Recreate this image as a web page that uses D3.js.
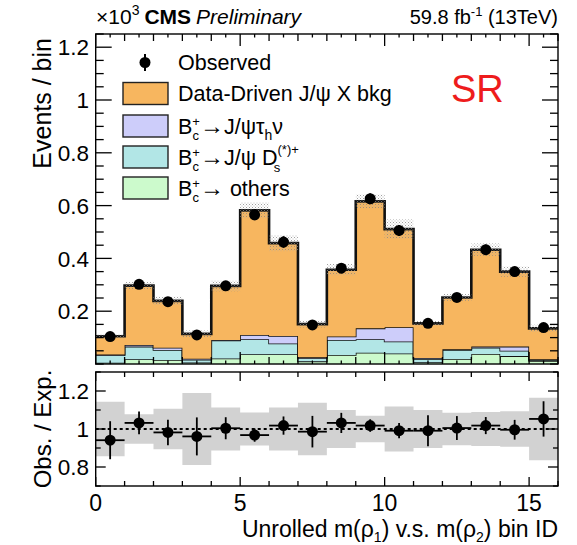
<!DOCTYPE html>
<html>
<head>
<meta charset="utf-8">
<script src="https://cdn.jsdelivr.net/npm/d3@7"></script>
<style>
  body { margin: 0; background: #fff; }
  text { font-family: "Liberation Sans", Arial, sans-serif; fill: #000; }
</style>
</head>
<body>
<script>
// bin contents (x10^3 events / bin), stacked from bottom
const bins = d3.range(16);
const others = [0.005, 0.018, 0.015, 0.006, 0.021, 0.037, 0.037, 0.010, 0.034, 0.043, 0.040, 0.007, 0.019, 0.038, 0.030, 0.012];
const dsPlus = [0.028, 0.048, 0.038, 0.010, 0.068, 0.057, 0.041, 0.012, 0.057, 0.051, 0.045, 0.012, 0.034, 0.024, 0.020, 0.003];
const tauNu = [0.003, 0.006, 0.009, 0.004, 0.002, 0.016, 0.028, 0.004, 0.013, 0.041, 0.054, 0.004, 0.003, 0.004, 0.016, 0.003];
const bkg = [0.069, 0.225, 0.177, 0.094, 0.205, 0.472, 0.352, 0.125, 0.253, 0.481, 0.372, 0.131, 0.196, 0.367, 0.284, 0.117];
const observed = [0.104, 0.302, 0.236, 0.110, 0.296, 0.565, 0.462, 0.148, 0.363, 0.626, 0.506, 0.154, 0.252, 0.433, 0.350, 0.138];
// ratio panel
const ratio = [0.941, 1.032, 0.982, 0.961, 1.004, 0.968, 1.018, 0.986, 1.032, 1.018, 0.991, 0.991, 1.005, 1.018, 0.996, 1.053];
const ratioErr = [0.100, 0.060, 0.067, 0.100, 0.058, 0.035, 0.048, 0.083, 0.053, 0.033, 0.040, 0.082, 0.063, 0.045, 0.052, 0.093];
const expUnc = [0.144, 0.078, 0.107, 0.190, 0.113, 0.087, 0.113, 0.138, 0.100, 0.070, 0.118, 0.100, 0.085, 0.090, 0.093, 0.165];
const xTicks = [0, 5, 10, 15];
const yTicks = [0.2, 0.4, 0.6, 0.8, 1, 1.2];
const rTicks = [0.8, 1, 1.2];

const width = 577, height = 545;
const colors = { others: '#ccfacc', ds: '#b2e6e6', tau: '#cdcdfa', bkg: '#f7b65f' };

const svg = d3.select('body').append('svg')
    .attr('width', width)
    .attr('height', height);

const x = d3.scaleLinear().domain([0, 16]).range([95.7, 558]);
const y = d3.scaleLinear().domain([0, 1.25]).range([364, 34]);
const yr = d3.scaleLinear().domain([0.7, 1.3]).range([486, 372]);

// dotted hatch for the uncertainty
const defs = svg.append('defs');
const pat = defs.append('pattern')
    .attr('id', 'dots')
    .attr('width', 3).attr('height', 3)
    .attr('patternUnits', 'userSpaceOnUse');
pat.append('rect').attr('x', 0).attr('y', 0).attr('width', 1).attr('height', 1).attr('fill', '#888');
pat.append('rect').attr('x', 1.5).attr('y', 1.5).attr('width', 1).attr('height', 1).attr('fill', '#aaa');

const rows = bins.map(i => ({ bin: i, others: others[i], ds: dsPlus[i], tau: tauNu[i], bkg: bkg[i] }));
const stack = d3.stack().keys(['others', 'ds', 'tau', 'bkg'])(rows);
const total = rows.map(r => r.others + r.ds + r.tau + r.bkg);

// repeat the last bin so steps reach the right edge
const withEdge = arr => arr.concat([Object.assign({}, arr[arr.length - 1], { edge: true })]);
const binX = (d, i) => x(i);

const main = svg.append('g');

stack.forEach(layer => {
    let pts = withEdge(layer.map(d => ({ y0: d[0], y1: d[1] })));
    main.append('path')
        .datum(pts)
        .attr('d', d3.area().curve(d3.curveStepAfter).x(binX).y0(d => y(d.y0)).y1(d => y(d.y1)))
        .attr('fill', colors[layer.key]);
    main.append('path')
        .datum(pts)
        .attr('d', d3.line().curve(d3.curveStepAfter).x(binX).y(d => y(d.y1)))
        .attr('fill', 'none')
        .attr('stroke', '#111')
        .attr('stroke-width', layer.key === 'bkg' ? 2.6 : 1.6);
});

// uncertainty band on the total
const band = withEdge(total.map((t, i) => ({ lo: t * (1 - expUnc[i] * 0.6), hi: t * (1 + expUnc[i] * 0.6) })));
main.append('path')
    .datum(band)
    .attr('d', d3.area().curve(d3.curveStepAfter).x(binX).y0(d => y(d.lo)).y1(d => y(d.hi)))
    .attr('fill', 'url(#dots)')
    .attr('opacity', 0.8);

// observed points
main.selectAll('.err')
    .data(bins)
    .enter()
    .append('line')
    .attr('x1', i => x(i + 0.5)).attr('x2', i => x(i + 0.5))
    .attr('y1', i => y(observed[i] + ratioErr[i] * total[i]))
    .attr('y2', i => y(observed[i] - ratioErr[i] * total[i]))
    .attr('stroke', '#000').attr('stroke-width', 2);
main.selectAll('.obs')
    .data(bins)
    .enter()
    .append('circle')
    .attr('cx', i => x(i + 0.5))
    .attr('cy', i => y(observed[i]))
    .attr('r', 5.5)
    .attr('fill', '#000');

// frame and ticks
function frame(g, sx, sy, yMajor, yMinor, xMinorStep, majLen, minLen, xMaj, xMin) {
    const [x0, x1] = sx.range();
    const [yb, yt] = sy.range();
    g.append('rect')
        .attr('x', x0).attr('y', yt)
        .attr('width', x1 - x0).attr('height', yb - yt)
        .attr('fill', 'none').attr('stroke', '#000').attr('stroke-width', 1.4);
    const d = sy.domain();
    const ticks = [];
    for (let v = d[0]; v <= d[1] + 1e-9; v += yMinor) ticks.push(+v.toFixed(4));
    ticks.forEach(v => {
        let major = yMajor.some(m => Math.abs(m - v) < 1e-6);
        let len = major ? majLen : minLen;
        g.append('line').attr('x1', x0).attr('x2', x0 + len).attr('y1', sy(v)).attr('y2', sy(v)).attr('stroke', '#000').attr('stroke-width', 1.3);
        g.append('line').attr('x1', x1).attr('x2', x1 - len).attr('y1', sy(v)).attr('y2', sy(v)).attr('stroke', '#000').attr('stroke-width', 1.3);
    });
    for (let v = 0; v <= 16 + 1e-9; v += xMinorStep) {
        let len = (v % 5 === 0) ? xMaj : (Number.isInteger(v) ? xMin : xMin * 0.5);
        g.append('line').attr('x1', sx(v)).attr('x2', sx(v)).attr('y1', yb).attr('y2', yb - len).attr('stroke', '#000').attr('stroke-width', 1.3);
        g.append('line').attr('x1', sx(v)).attr('x2', sx(v)).attr('y1', yt).attr('y2', yt + len).attr('stroke', '#000').attr('stroke-width', 1.3);
    }
}

frame(main, x, y, yTicks, 0.05, 0.5, 16, 8, 12, 7);

main.selectAll('.ylab')
    .data(yTicks)
    .enter()
    .append('text')
    .attr('x', 89)
    .attr('y', v => y(v))
    .attr('dy', '0.36em')
    .attr('text-anchor', 'end')
    .attr('font-size', 22.5)
    .text(v => v);

// ratio panel
const rp = svg.append('g');
const rBand = withEdge(expUnc.map(u => ({ lo: 1 - u, hi: 1 + u })));
rp.append('path')
    .datum(rBand)
    .attr('d', d3.area().curve(d3.curveStepAfter).x(binX).y0(d => yr(Math.max(0.7, d.lo))).y1(d => yr(Math.min(1.3, d.hi))))
    .attr('fill', '#d2d2d2');
rp.append('line')
    .attr('x1', x(0)).attr('x2', x(16))
    .attr('y1', yr(1)).attr('y2', yr(1))
    .attr('stroke', '#000').attr('stroke-width', 2.2)
    .attr('stroke-dasharray', '3,3');
rp.selectAll('.rh')
    .data(bins)
    .enter()
    .append('line')
    .attr('x1', i => x(i)).attr('x2', i => x(i + 1))
    .attr('y1', i => yr(ratio[i])).attr('y2', i => yr(ratio[i]))
    .attr('stroke', '#000').attr('stroke-width', 1.8);
rp.selectAll('.rv')
    .data(bins)
    .enter()
    .append('line')
    .attr('x1', i => x(i + 0.5)).attr('x2', i => x(i + 0.5))
    .attr('y1', i => yr(ratio[i] - ratioErr[i])).attr('y2', i => yr(ratio[i] + ratioErr[i]))
    .attr('stroke', '#000').attr('stroke-width', 1.8);
rp.selectAll('.rp')
    .data(bins)
    .enter()
    .append('circle')
    .attr('cx', i => x(i + 0.5))
    .attr('cy', i => yr(ratio[i]))
    .attr('r', 5.5)
    .attr('fill', '#000');

frame(rp, x, yr, rTicks, 0.1, 1, 10, 5, 9, 5);

rp.selectAll('.rlab')
    .data(rTicks)
    .enter()
    .append('text')
    .attr('x', 89)
    .attr('y', v => yr(v))
    .attr('dy', '0.36em')
    .attr('text-anchor', 'end')
    .attr('font-size', 22.5)
    .text(v => v);

svg.selectAll('.xlab')
    .data(xTicks)
    .enter()
    .append('text')
    .attr('x', v => x(v))
    .attr('y', 511)
    .attr('text-anchor', 'middle')
    .attr('font-size', 23)
    .text(v => v);

// titles
const xt = svg.append('text')
    .attr('x', 558).attr('y', 537)
    .attr('text-anchor', 'end')
    .attr('font-size', 23);
xt.append('tspan').text('Unrolled m(ρ');
xt.append('tspan').attr('font-size', 14).attr('dy', 5).text('1');
xt.append('tspan').attr('dy', -5).text(') v.s. m(ρ');
xt.append('tspan').attr('font-size', 14).attr('dy', 5).text('2');
xt.append('tspan').attr('dy', -5).text(') bin ID');

svg.append('text')
    .attr('transform', 'translate(51,38) rotate(-90)')
    .attr('text-anchor', 'end')
    .attr('font-size', 25)
    .text('Events / bin');
svg.append('text')
    .attr('transform', 'translate(51,429) rotate(-90)')
    .attr('text-anchor', 'middle')
    .attr('font-size', 24)
    .text('Obs. / Exp.');

const hdr = svg.append('text').attr('x', 96).attr('y', 24).attr('font-size', 21);
hdr.append('tspan').text('×10');
hdr.append('tspan').attr('font-size', 14).attr('dy', -9).text('3');
hdr.append('tspan').attr('dy', 9).attr('dx', 5).attr('font-weight', 'bold').text('CMS');
hdr.append('tspan').attr('dx', 5).attr('font-style', 'italic').text('Preliminary');

const lumi = svg.append('text').attr('x', 558).attr('y', 24).attr('text-anchor', 'end').attr('font-size', 20);
lumi.append('tspan').text('59.8 fb');
lumi.append('tspan').attr('font-size', 13).attr('dy', -8).text('-1');
lumi.append('tspan').attr('dy', 8).text(' (13TeV)');

svg.append('text')
    .attr('x', 451).attr('y', 102)
    .attr('font-size', 38)
    .style('fill', '#ee1c1c')
    .text('SR');

// legend
const leg = svg.append('g');
leg.append('line').attr('x1', 145).attr('x2', 145).attr('y1', 54).attr('y2', 71).attr('stroke', '#000').attr('stroke-width', 2);
leg.append('circle').attr('cx', 145).attr('cy', 62.5).attr('r', 5.5).attr('fill', '#000');
leg.append('text').attr('x', 178).attr('y', 62.5).attr('dy', '0.36em').attr('font-size', 21.5).text('Observed');

const entries = [
    { key: 'bkg', yc: 93.5 },
    { key: 'tau', yc: 126 },
    { key: 'ds', yc: 157 },
    { key: 'others', yc: 188 }
];
entries.forEach(e => {
    leg.append('rect')
        .attr('x', 123).attr('y', e.yc - 11)
        .attr('width', 45).attr('height', 22)
        .attr('fill', colors[e.key])
        .attr('stroke', '#222').attr('stroke-width', 1.4);
});

function bc(t) {
    t.append('tspan').text('B');
    t.append('tspan').attr('font-size', 13).attr('dy', -8).text('+');
    t.append('tspan').attr('font-size', 13).attr('dx', -7.5).attr('dy', 14).text('c');
    t.append('tspan').attr('dy', -6).attr('dx', 1).attr('font-size', 24).text('→');
}
const t1 = leg.append('text').attr('x', 178).attr('y', 93.5).attr('dy', '0.36em').attr('font-size', 21.5).text('Data-Driven J/ψ X bkg');
const t2 = leg.append('text').attr('x', 178).attr('y', 126).attr('dy', '0.36em').attr('font-size', 21.5);
bc(t2);
t2.append('tspan').text('J/ψτ');
t2.append('tspan').attr('font-size', 14).attr('dy', 6).text('h');
t2.append('tspan').attr('dy', -6).text('ν');
const t3 = leg.append('text').attr('x', 178).attr('y', 157).attr('dy', '0.36em').attr('font-size', 21.5);
bc(t3);
t3.append('tspan').text('J/ψ D');
t3.append('tspan').attr('font-size', 13).attr('dy', -11).text('(*)+');
t3.append('tspan').attr('font-size', 13).attr('dx', -25).attr('dy', 18).text('s');
const t4 = leg.append('text').attr('x', 178).attr('y', 188).attr('dy', '0.36em').attr('font-size', 21.5);
bc(t4);
t4.append('tspan').text(' others');
</script>
</body>
</html>
